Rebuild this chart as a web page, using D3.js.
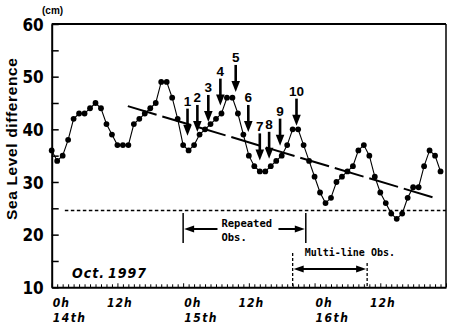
<!DOCTYPE html>
<html><head><meta charset="utf-8">
<script src="https://cdn.jsdelivr.net/npm/d3@7"></script>
<style>
body{margin:0;background:#fff;}
svg{display:block;}
</style></head><body>
<svg id="c" width="450" height="324"></svg>
<script>
// ---- data ----
const seaLevel = [36,34,35,38,42,43,43,44,45,44,41,39,37,37,37,41,42,43,44,45,
  49,49,46,42,37,36,37,39,40,41,42,43,46,46,43,39,35,33,32,32,
  33,34,35,37,40,40,37,34,31,28,26,27,30,31,32,33,36,37,35,31,
  28,26,24,23,24,27,29,29,33,36,35,32]; // hourly from 0h 14th
const yTicks = [10,20,30,40,50,60];
const yMinor = [15,25,35,45,55];
const xLabelHours = [0,12,24,36,48,60];
const xLabels = ["0h","12h","0h","12h","0h","12h"];
const dayHours = [0,24,48];
const dayLabels = ["14th","15th","16th"];
const trendHours = [13.9,70.2];
const trendValues = [44.4,26.9];
const refLevel = 24.6;
const refStartHour = 2.4;
const arrowIds = ["1","2","3","4","5","6","7","8","9","10"];
const arrowHours = [24.8,26.6,28.6,30.8,33.6,35.9,38.0,39.7,41.7,44.7];
const arrowTips = [38.8,39.5,41.4,44.5,47.1,39.5,34.1,34.4,36.9,40.7];
const repeatedObs = [24,46.4];
const multiLineObs = [44,57.6];

// ---- layout ----
const svg = d3.select("#c");
const L=51.7, R=446, T=24, B=287.3;
const x = d3.scaleLinear().domain([0,72]).range([L,R]);
const y = d3.scaleLinear().domain([10,60]).range([B,T]);
const narrow = "'Liberation Sans Narrow','DejaVu Sans Condensed','Liberation Sans',sans-serif";
const sans = "'Liberation Sans',Arial,sans-serif";
const mono = "'DejaVu Sans Mono','Liberation Mono',monospace";

// frame
svg.append("line").attr("x1",L).attr("x2",R).attr("y1",T).attr("y2",T).attr("stroke","#000").attr("stroke-width",2);
svg.append("line").attr("x1",R).attr("x2",R).attr("y1",T).attr("y2",B).attr("stroke","#000").attr("stroke-width",1.5);

// y axis
const ya = svg.append("g").attr("transform",`translate(${L},0)`)
  .call(d3.axisLeft(y).tickValues(yTicks.concat(yMinor)).tickSizeInner(-7).tickSizeOuter(0).tickPadding(8)
    .tickFormat(d=>yTicks.includes(d)?d:""));
ya.select(".domain").attr("stroke-width",2);
ya.selectAll(".tick line").attr("stroke-width",1.5);
ya.selectAll("text").attr("font-family",narrow).attr("font-weight","bold").attr("font-size",17).attr("fill","#000").attr("dy","0.36em");

// x axis
const xa = svg.append("g").attr("transform",`translate(0,${B})`)
  .call(d3.axisBottom(x).tickValues(d3.range(0,73)).tickSizeInner(-3).tickSizeOuter(0).tickFormat(""));
xa.select(".domain").attr("stroke-width",2);
xa.selectAll(".tick line").attr("stroke-width",1).attr("y2",d=>d%12===0?-4:-3);

// x labels
svg.selectAll("text.xl").data(xLabelHours).enter().append("text").attr("class","xl")
  .attr("x",(d,i)=>xLabels[i]==="0h"?x(d)+1:x(d)+2.5)
  .attr("text-anchor",(d,i)=>xLabels[i]==="0h"?"start":"middle")
  .attr("y",307).attr("font-family",narrow).attr("font-weight","bold").attr("font-style","italic")
  .attr("font-size",12).attr("letter-spacing",1).text((d,i)=>xLabels[i]);
svg.selectAll("text.dl").data(dayHours).enter().append("text").attr("class","dl")
  .attr("x",d=>x(d)+1).attr("y",322).attr("font-family",narrow).attr("font-weight","bold").attr("font-style","italic")
  .attr("font-size",12).attr("letter-spacing",1.5).text((d,i)=>dayLabels[i]);

// y title & unit
svg.append("text").attr("transform","translate(17,139) rotate(-90)").attr("text-anchor","middle")
  .attr("font-family",sans).attr("font-weight","bold").attr("font-size",15.5)
  .attr("textLength",162).attr("lengthAdjust","spacing").text("Sea Level difference");
svg.append("text").attr("x",42).attr("y",14).attr("font-family",sans).attr("font-weight","bold").attr("font-size",10).text("(cm)");

// reference dashed line
svg.append("line").attr("x1",x(refStartHour)).attr("x2",R).attr("y1",y(refLevel)).attr("y2",y(refLevel))
  .attr("stroke","#000").attr("stroke-width",1.5).attr("stroke-dasharray","3.5,2.5");

// trend line
svg.append("line").attr("x1",x(trendHours[0])).attr("y1",y(trendValues[0]))
  .attr("x2",x(trendHours[1])).attr("y2",y(trendValues[1]))
  .attr("stroke","#000").attr("stroke-width",2).attr("stroke-dasharray","30,6");

// data line + dots
svg.append("path").datum(seaLevel).attr("fill","none").attr("stroke","#000").attr("stroke-width",1.1)
  .attr("d",d3.line().x((d,i)=>x(i)).y(d=>y(d)));
svg.selectAll("circle.pt").data(seaLevel).enter().append("circle").attr("class","pt")
  .attr("cx",(d,i)=>x(i)).attr("cy",d=>y(d)).attr("r",2.9).attr("fill","#000");

// numbered arrows
arrowHours.forEach((h,i)=>{
  const ax=x(h), tip=y(arrowTips[i]), top=tip-27;
  svg.append("line").attr("x1",ax).attr("x2",ax).attr("y1",top).attr("y2",tip-9).attr("stroke","#000").attr("stroke-width",2.6);
  svg.append("path").attr("d",`M${ax-4.3},${tip-11}L${ax+4.3},${tip-11}L${ax},${tip}Z`).attr("fill","#000");
  svg.append("text").attr("x",ax).attr("y",top-2.5).attr("text-anchor","middle")
    .attr("font-family",sans).attr("font-weight","bold").attr("font-size",13.5).text(arrowIds[i]);
});

// Repeated Obs.
(function(){
  const x0=x(repeatedObs[0]), x1=x(repeatedObs[1]), mid=(x0+x1)/2, ty=229;
  [x0,x1].forEach(xx=>svg.append("line").attr("x1",xx).attr("x2",xx).attr("y1",213).attr("y2",243).attr("stroke","#000").attr("stroke-width",1.5));
  const tl=mid-23;
  svg.append("text").attr("x",tl).attr("y",227).attr("font-family",mono).attr("font-weight","bold").attr("font-size",10.5).text("Repeated");
  svg.append("text").attr("x",tl).attr("y",241).attr("font-family",mono).attr("font-weight","bold").attr("font-size",10.5).text("Obs.");
  svg.append("line").attr("x1",tl-4).attr("x2",x0+8).attr("y1",ty).attr("y2",ty).attr("stroke","#000").attr("stroke-width",2);
  svg.append("path").attr("d",`M${x0+1},${ty}L${x0+11},${ty-3.5}L${x0+11},${ty+3.5}Z`).attr("fill","#000");
  svg.append("line").attr("x1",tl+57).attr("x2",x1-8).attr("y1",ty).attr("y2",ty).attr("stroke","#000").attr("stroke-width",2);
  svg.append("path").attr("d",`M${x1-1},${ty}L${x1-11},${ty-3.5}L${x1-11},${ty+3.5}Z`).attr("fill","#000");
})();

// Multi-line Obs.
(function(){
  const x0=x(multiLineObs[0]), x1=x(multiLineObs[1]), ay=269;
  svg.append("line").attr("x1",x0).attr("x2",x0).attr("y1",253).attr("y2",B).attr("stroke","#000").attr("stroke-width",1.3).attr("stroke-dasharray","3,2");
  svg.append("line").attr("x1",x1).attr("x2",x1).attr("y1",263).attr("y2",B).attr("stroke","#000").attr("stroke-width",1.3).attr("stroke-dasharray","3,2");
  svg.append("text").attr("x",x0+12).attr("y",256).attr("font-family",mono).attr("font-weight","bold").attr("font-size",10).text("Multi-line Obs.");
  svg.append("line").attr("x1",x0+8).attr("x2",x1-8).attr("y1",ay).attr("y2",ay).attr("stroke","#000").attr("stroke-width",2);
  svg.append("path").attr("d",`M${x0+1},${ay}L${x0+11},${ay-3.5}L${x0+11},${ay+3.5}Z`).attr("fill","#000");
  svg.append("path").attr("d",`M${x1-1},${ay}L${x1-11},${ay-3.5}L${x1-11},${ay+3.5}Z`).attr("fill","#000");
})();

// Oct. 1997
svg.append("text").attr("x",72).attr("y",278).attr("font-family",narrow).attr("font-weight","bold").attr("font-style","italic").attr("font-size",14).attr("letter-spacing",1).text("Oct.");
svg.append("text").attr("x",108).attr("y",278).attr("font-family",narrow).attr("font-weight","bold").attr("font-style","italic").attr("font-size",14).attr("letter-spacing",1).text("1997");
</script>
</body></html>
